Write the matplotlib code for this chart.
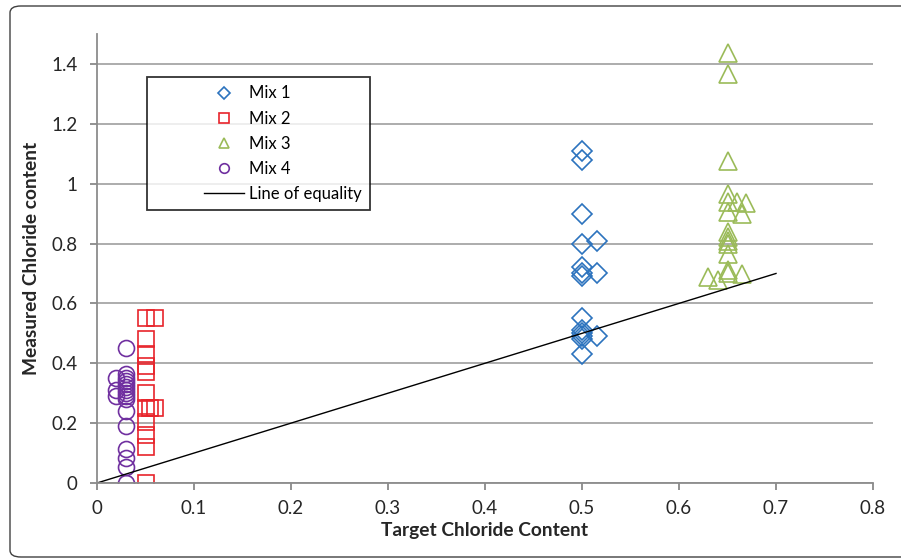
import matplotlib.pyplot as plt
from matplotlib.patches import FancyBboxPatch
from matplotlib.lines import Line2D
from matplotlib.legend_handler import HandlerLine2D

# data
mix1_x = [0.5, 0.5, 0.5, 0.5, 0.515, 0.5, 0.5, 0.5, 0.515, 0.5, 0.5, 0.5, 0.5, 0.5, 0.515, 0.5]
mix1_y = [1.11, 1.08, 0.90, 0.80, 0.81, 0.72, 0.70, 0.69, 0.70, 0.55, 0.51, 0.50, 0.49, 0.48, 0.49, 0.43]

mix2_x = [0.05, 0.06, 0.05, 0.05, 0.05, 0.05, 0.05, 0.05, 0.055, 0.06, 0.05, 0.05, 0.05, 0.05]
mix2_y = [0.55, 0.55, 0.48, 0.43, 0.39, 0.37, 0.30, 0.25, 0.25, 0.25, 0.205, 0.16, 0.12, 0.0]

mix3_x = [0.65, 0.65, 0.65, 0.65, 0.66, 0.669, 0.65, 0.65, 0.665, 0.65, 0.65, 0.65, 0.65,
          0.65, 0.65, 0.65, 0.63, 0.64, 0.665]
mix3_y = [1.435, 1.365, 1.077, 0.966, 0.938, 0.937, 0.94, 0.904, 0.90, 0.838, 0.821, 0.81, 0.80,
          0.766, 0.71, 0.70, 0.688, 0.677, 0.699]

mix4_x = [0.03, 0.03, 0.02, 0.03, 0.03, 0.03, 0.03, 0.02, 0.03, 0.03, 0.02, 0.03, 0.03,
          0.03, 0.03, 0.03, 0.03, 0.03, 0.03]
mix4_y = [0.45, 0.365, 0.35, 0.35, 0.34, 0.33, 0.32, 0.31, 0.31, 0.30, 0.29, 0.29, 0.28,
          0.24, 0.19, 0.115, 0.085, 0.055, 0.0]

equality_x = [0, 0.7]
equality_y = [0, 0.7]

x_ticks = [0, 0.1, 0.2, 0.3, 0.4, 0.5, 0.6, 0.7, 0.8]
x_labels = ["0", "0.1", "0.2", "0.3", "0.4", "0.5", "0.6", "0.7", "0.8"]
y_ticks = [0, 0.2, 0.4, 0.6, 0.8, 1.0, 1.2, 1.4]
y_labels = ["0", "0.2", "0.4", "0.6", "0.8", "1", "1.2", "1.4"]


class RightHandle(HandlerLine2D):
    # put the legend symbol in the right part of the handle box, like Excel does
    def get_xdata(self, legend, xdescent, ydescent, width, height, fontsize):
        x0 = -xdescent + width * 0.55
        x1 = -xdescent + width
        return [x0, x1], [(x0 + x1) / 2]


plt.rcParams['font.family'] = ['Lato', 'DejaVu Sans']

fig = plt.figure(figsize=(9.01, 5.60), dpi=100)
ax = fig.add_axes([97 / 901, 1 - 483 / 560, 776 / 901, 449 / 560])

# rounded frame around the whole chart (runs off the right edge)
frame = FancyBboxPatch((10 / 901, 3 / 560), 1.05, 551 / 560,
                       boxstyle="round,pad=0,rounding_size=0.012",
                       transform=fig.transFigure, fill=False,
                       edgecolor="#404040", linewidth=1.0, clip_on=False)
fig.patches.append(frame)

mk = dict(linestyle="none", markerfacecolor="none", markeredgewidth=1.2)
ax.plot(mix1_x, mix1_y, marker="D", markersize=10.5, markeredgecolor="#2C73BE", label="Mix 1", **mk)
ax.plot(mix2_x, mix2_y, marker="s", markersize=11.5, markeredgecolor="#E8242B", label="Mix 2", **mk)
ax.plot(mix3_x, mix3_y, marker="^", markersize=12.5, markeredgecolor="#9BBB59", label="Mix 3", **mk)
ax.plot(mix4_x, mix4_y, marker="o", markersize=11.5, markeredgecolor="#7030A0", label="Mix 4", **mk)
ax.plot(equality_x, equality_y, color="black", linewidth=1.0, label="Line of equality")

ax.set_xlim(0, 0.8)
ax.set_ylim(0, 1.5)
ax.set_xticks(x_ticks)
ax.set_xticklabels(x_labels)
ax.set_yticks(y_ticks)
ax.set_yticklabels(y_labels)
ax.tick_params(axis="both", labelsize=13.5, colors="#7F7F7F", labelcolor="#262626",
               length=5, width=1.2, direction="out")
ax.tick_params(axis="y", pad=9)
ax.tick_params(axis="x", pad=7)

ax.grid(True, axis="y", color="#A6A6A6", linewidth=1.3)
ax.set_axisbelow(True)
for s in ["top", "right"]:
    ax.spines[s].set_visible(False)
for s in ["left", "bottom"]:
    ax.spines[s].set_color("#8C8C8C")
    ax.spines[s].set_linewidth(1.3)

ax.set_xlabel("Target Chloride Content", fontsize=13.8, fontweight="bold",
              color="#262626", labelpad=4)
ax.set_ylabel("Measured Chloride content", fontsize=13.8, fontweight="bold",
              color="#262626", labelpad=8)

leg = ax.legend(loc="upper left", bbox_to_anchor=(50 / 776, (483 - 77) / 449),
                fontsize=12, markerscale=0.6, frameon=True, fancybox=False,
                borderpad=0.5, labelspacing=0.55, handlelength=5.3, handletextpad=0.3,
                borderaxespad=0, handler_map={Line2D: RightHandle()})
leg.get_frame().set_edgecolor("black")
leg.get_frame().set_linewidth(1.3)

fig.savefig("out.png", dpi=100)
